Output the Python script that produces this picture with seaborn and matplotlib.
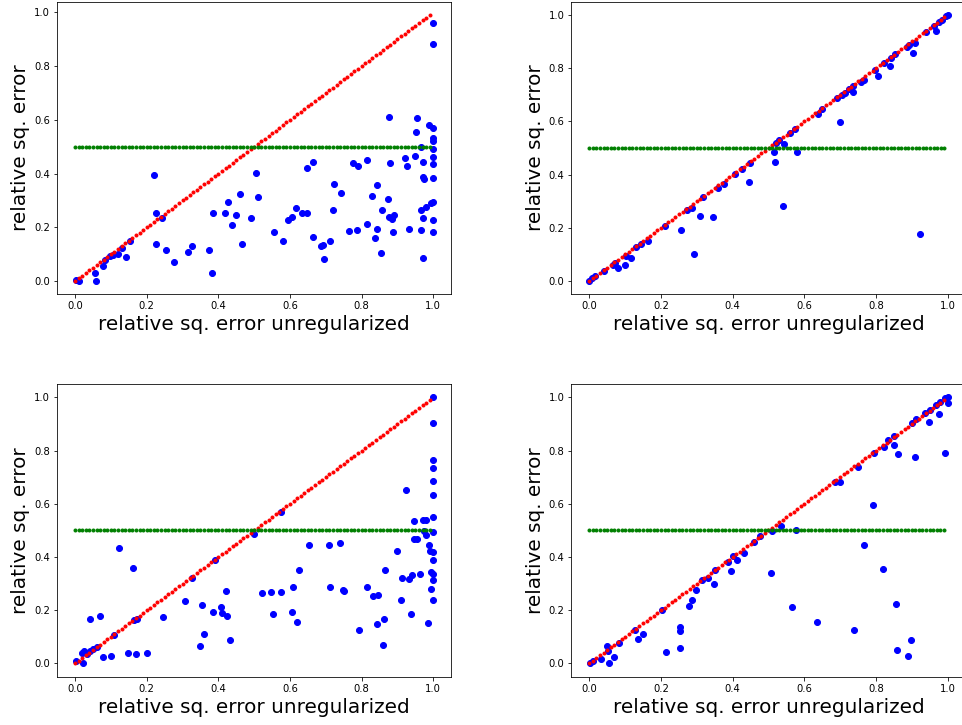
import numpy as np
import seaborn as sns
import matplotlib.pyplot as plt

# reference grid for the y=x and y=0.5 guide lines
ref_x = np.arange(0, 1, 0.01)

# top left
p1_x = [0.003, 0.010, 0.056, 0.059, 0.077, 0.084, 0.098, 0.107, 0.121, 0.130, 0.142, 0.153,
        0.220, 0.226, 0.242, 0.225, 0.254, 0.275, 0.316, 0.326, 0.375, 0.381, 0.384, 0.419,
        0.426, 0.437, 0.448, 0.461, 0.466, 0.490, 0.505, 0.510, 0.556, 0.581, 0.594, 0.606,
        0.616, 0.634, 0.647, 0.647, 0.665, 0.663, 0.686, 0.691, 0.694, 0.713, 0.719, 0.723,
        0.742, 0.764, 0.777, 0.789, 0.788, 0.814, 0.814, 0.830, 0.837, 0.843, 0.844, 0.854,
        0.858, 0.873, 0.877, 0.880, 0.876, 0.884, 0.891, 0.887, 0.921, 0.927, 0.931, 0.950,
        0.953, 0.955, 0.965, 0.966, 0.970, 0.970, 0.975, 0.972, 0.971, 0.967, 0.981, 0.988,
        0.994, 0.998, 0.998, 1.0, 1.0, 1.0, 1.0, 1.0, 1.0, 1.0, 1.0, 1.0, 1.0]
p1_y = [0.004, 0.000, 0.029, 0.000, 0.057, 0.078, 0.094, 0.097, 0.100, 0.122, 0.089, 0.149,
        0.393, 0.252, 0.233, 0.139, 0.115, 0.071, 0.109, 0.130, 0.115, 0.030, 0.254, 0.252,
        0.295, 0.210, 0.246, 0.325, 0.139, 0.233, 0.402, 0.313, 0.184, 0.149, 0.227, 0.237,
        0.272, 0.252, 0.252, 0.419, 0.443, 0.163, 0.130, 0.136, 0.081, 0.151, 0.263, 0.360,
        0.329, 0.186, 0.440, 0.429, 0.190, 0.452, 0.213, 0.316, 0.160, 0.356, 0.192, 0.104,
        0.263, 0.305, 0.610, 0.438, 0.239, 0.231, 0.246, 0.184, 0.459, 0.429, 0.192, 0.467,
        0.553, 0.607, 0.264, 0.190, 0.443, 0.388, 0.381, 0.233, 0.087, 0.498, 0.274, 0.582,
        0.292, 0.226, 0.181, 0.568, 0.533, 0.521, 0.491, 0.460, 0.434, 0.382, 0.295, 0.959,
        0.883]

# top right
p2_x = [0.000, 0.007, 0.016, 0.041, 0.065, 0.072, 0.081, 0.100, 0.102, 0.115, 0.130, 0.143,
        0.165, 0.211, 0.256, 0.273, 0.286, 0.291, 0.310, 0.317, 0.344, 0.358, 0.376, 0.406,
        0.427, 0.445, 0.447, 0.515, 0.518, 0.521, 0.530, 0.540, 0.543, 0.579, 0.560, 0.574,
        0.637, 0.650, 0.690, 0.698, 0.704, 0.713, 0.725, 0.734, 0.736, 0.758, 0.766, 0.797,
        0.805, 0.822, 0.839, 0.841, 0.853, 0.886, 0.892, 0.904, 0.909, 0.922, 0.940, 0.960,
        0.967, 0.974, 0.983, 0.994, 0.999]
p2_y = [0.000, 0.012, 0.021, 0.037, 0.060, 0.069, 0.050, 0.062, 0.096, 0.085, 0.128, 0.140,
        0.152, 0.208, 0.191, 0.266, 0.276, 0.103, 0.244, 0.315, 0.241, 0.349, 0.365, 0.401,
        0.421, 0.372, 0.443, 0.483, 0.448, 0.517, 0.529, 0.283, 0.515, 0.483, 0.555, 0.572,
        0.628, 0.647, 0.686, 0.597, 0.697, 0.707, 0.721, 0.708, 0.732, 0.749, 0.754, 0.794,
        0.769, 0.820, 0.808, 0.839, 0.852, 0.879, 0.885, 0.857, 0.893, 0.178, 0.934, 0.958,
        0.939, 0.973, 0.981, 0.995, 0.999]

# bottom left
p3_x = [0.003, 0.021, 0.019, 0.025, 0.033, 0.042, 0.051, 0.060, 0.042, 0.070, 0.077, 0.100,
        0.110, 0.122, 0.147, 0.163, 0.165, 0.174, 0.169, 0.200, 0.245, 0.308, 0.327, 0.349,
        0.353, 0.361, 0.384, 0.392, 0.407, 0.409, 0.424, 0.421, 0.433, 0.500, 0.521, 0.547,
        0.552, 0.574, 0.574, 0.606, 0.607, 0.620, 0.624, 0.654, 0.710, 0.712, 0.740, 0.747,
        0.752, 0.792, 0.816, 0.833, 0.845, 0.844, 0.860, 0.861, 0.864, 0.898, 0.910, 0.913,
        0.924, 0.931, 0.938, 0.940, 0.946, 0.947, 0.955, 0.964, 0.970, 0.975, 0.980, 0.981,
        0.985, 0.989, 0.991, 0.993, 0.993, 1.0, 1.0, 1.0, 1.0, 1.0, 1.0, 1.0, 1.0, 1.0, 1.0,
        1.0, 1.0, 1.0]
p3_y = [0.009, 0.000, 0.038, 0.048, 0.035, 0.048, 0.053, 0.063, 0.165, 0.180, 0.025, 0.029,
        0.107, 0.435, 0.040, 0.360, 0.163, 0.168, 0.034, 0.040, 0.173, 0.234, 0.322, 0.065,
        0.219, 0.112, 0.195, 0.390, 0.211, 0.190, 0.179, 0.271, 0.088, 0.487, 0.264, 0.267,
        0.187, 0.570, 0.267, 0.195, 0.288, 0.154, 0.351, 0.446, 0.446, 0.288, 0.452, 0.277,
        0.271, 0.125, 0.286, 0.254, 0.258, 0.148, 0.070, 0.167, 0.351, 0.422, 0.237, 0.321,
        0.652, 0.318, 0.187, 0.332, 0.534, 0.469, 0.469, 0.336, 0.540, 0.499, 0.539, 0.484,
        0.150, 0.446, 0.422, 0.279, 0.345, 1.000, 0.902, 0.766, 0.733, 0.685, 0.632, 0.551,
        0.494, 0.419, 0.388, 0.336, 0.312, 0.238]

# bottom right
p4_x = [0.002, 0.011, 0.033, 0.048, 0.053, 0.056, 0.069, 0.083, 0.127, 0.137, 0.151, 0.202,
        0.214, 0.252, 0.254, 0.254, 0.279, 0.287, 0.297, 0.315, 0.332, 0.349, 0.351, 0.388,
        0.396, 0.402, 0.412, 0.432, 0.460, 0.476, 0.507, 0.509, 0.534, 0.567, 0.577, 0.636,
        0.686, 0.700, 0.740, 0.749, 0.767, 0.791, 0.794, 0.821, 0.822, 0.834, 0.850, 0.851,
        0.855, 0.862, 0.860, 0.889, 0.897, 0.901, 0.908, 0.913, 0.937, 0.948, 0.951, 0.967,
        0.977, 0.979, 0.993, 0.994, 1.0, 1.0]
p4_y = [0.003, 0.010, 0.016, 0.065, 0.045, 0.003, 0.023, 0.076, 0.125, 0.092, 0.111, 0.199,
        0.042, 0.057, 0.135, 0.121, 0.215, 0.239, 0.275, 0.315, 0.322, 0.300, 0.350, 0.382,
        0.348, 0.403, 0.387, 0.416, 0.457, 0.477, 0.338, 0.497, 0.518, 0.212, 0.501, 0.155,
        0.680, 0.683, 0.126, 0.737, 0.446, 0.596, 0.791, 0.353, 0.812, 0.838, 0.822, 0.856,
        0.222, 0.786, 0.050, 0.029, 0.089, 0.902, 0.776, 0.917, 0.942, 0.908, 0.952, 0.970,
        0.936, 0.982, 0.999, 0.791, 1.000, 0.980]

panels = [(p1_x, p1_y), (p2_x, p2_y), (p3_x, p3_y), (p4_x, p4_y)]

fig, axes = plt.subplots(2, 2, figsize=(962 / 72, 725 / 72), dpi=72)
fig.subplots_adjust(left=0.0594, right=1.0036, bottom=0.0666, top=0.9977,
                    wspace=0.305, hspace=0.306)

for ax, (xs, ys) in zip(axes.flat, panels):
    sns.scatterplot(x=xs, y=ys, color='b', s=36, edgecolor='b', linewidth=1, ax=ax)
    ax.plot(ref_x, ref_x, 'r.')
    ax.plot(ref_x, 0.5 * np.ones_like(ref_x), 'g.')
    ax.set_xlabel('relative sq. error unregularized', fontsize=20)
    ax.set_ylabel('relative sq. error', fontsize=20)

fig.savefig('out.png', dpi=72)
